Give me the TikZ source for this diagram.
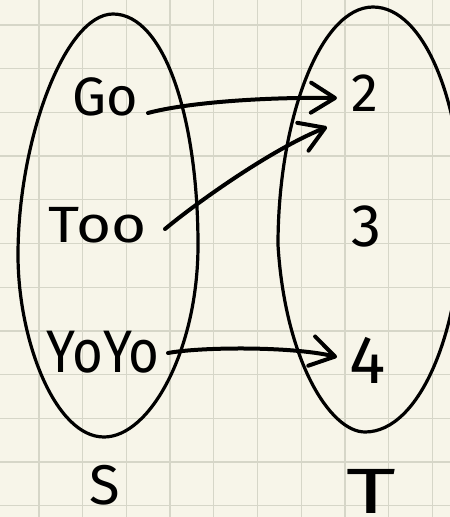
\documentclass[tikz,border=0pt]{standalone}
\usepackage{fontspec}
\setmainfont{Fira Sans}
\usetikzlibrary{arrows.meta}
\definecolor{paper}{RGB}{247,245,233}
\definecolor{gridc}{RGB}{214,214,200}
\begin{document}
\begin{tikzpicture}[x=1pt,y=-1pt,
  ell/.style={line width=3.2pt, line join=round},
  arr/.style={line width=4pt, line cap=round,
    -{Straight Barb[length=24pt,width=30pt,line cap=round,line join=round]}},
  lbl/.style={inner sep=0pt, font=\fontsize{54}{60}\selectfont},
  gridline/.style={gridc, line width=1.3pt}]
\fill[paper] (0,0) rectangle (450,517);
\clip (0,0) rectangle (450,517);
\foreach \i in {0,...,9} \draw[gridline] ({39+43.7*\i},0) -- ++(0,517);
\foreach \i in {0,...,11} \draw[gridline] (0,{25+43.7*\i}) -- ++(450,0);
% set S
\draw[ell] (113,14) .. controls (165,14) and (198,120) .. (198,245)
  .. controls (198,350) and (150,437) .. (104,437)
  .. controls (55,437) and (18,340) .. (18,255)
  .. controls (18,140) and (65,14) .. (113,14) -- cycle;
% set T
\draw[ell] (373,7) .. controls (425,7) and (462,105) .. (462,210)
  .. controls (462,330) and (420,432) .. (365,432)
  .. controls (330,432) and (285,360) .. (278,245)
  .. controls (278,120) and (320,7) .. (373,7) -- cycle;
% labels
\node[lbl] (go) at (105,97) {Go};
\node[lbl, font=\fontsize{51}{60}\selectfont] (too) at (98,225) {\scalebox{1.18}[1]{Too}};
\node[lbl, font=\fontsize{60}{66}\selectfont] (yoyo) at (103,352) {\scalebox{0.88}[1]{YoYo}};
\node[lbl, font=\fontsize{56}{62}\selectfont] (S) at (105,485) {S};
\node[lbl] (two) at (365,93) {2};
\node[lbl, font=\fontsize{60}{66}\selectfont] (three) at (366,226) {3};
\node[lbl, font=\fontsize{68}{74}\selectfont] (four) at (368,360) {4};
\node[lbl, font=\fontsize{64}{70}\selectfont] (Tlab) at (371,491) {\scalebox{1.5}[1]{T}};
% arrow ends
\coordinate (goS) at (148,113);
\coordinate (goE) at (337,98);
\coordinate (tooS) at (165,229);
\coordinate (tooE) at (327,127);
\coordinate (yoS) at (168,353);
\coordinate (yoE) at (337,357);
\draw[arr] (goS) .. controls (185,103) and (260,97) .. (goE);
\draw[arr] (tooS) .. controls (195,204) and (270,150) .. (tooE);
\draw[arr] (yoS) .. controls (200,347) and (290,346) .. (yoE);
\end{tikzpicture}
\end{document}
